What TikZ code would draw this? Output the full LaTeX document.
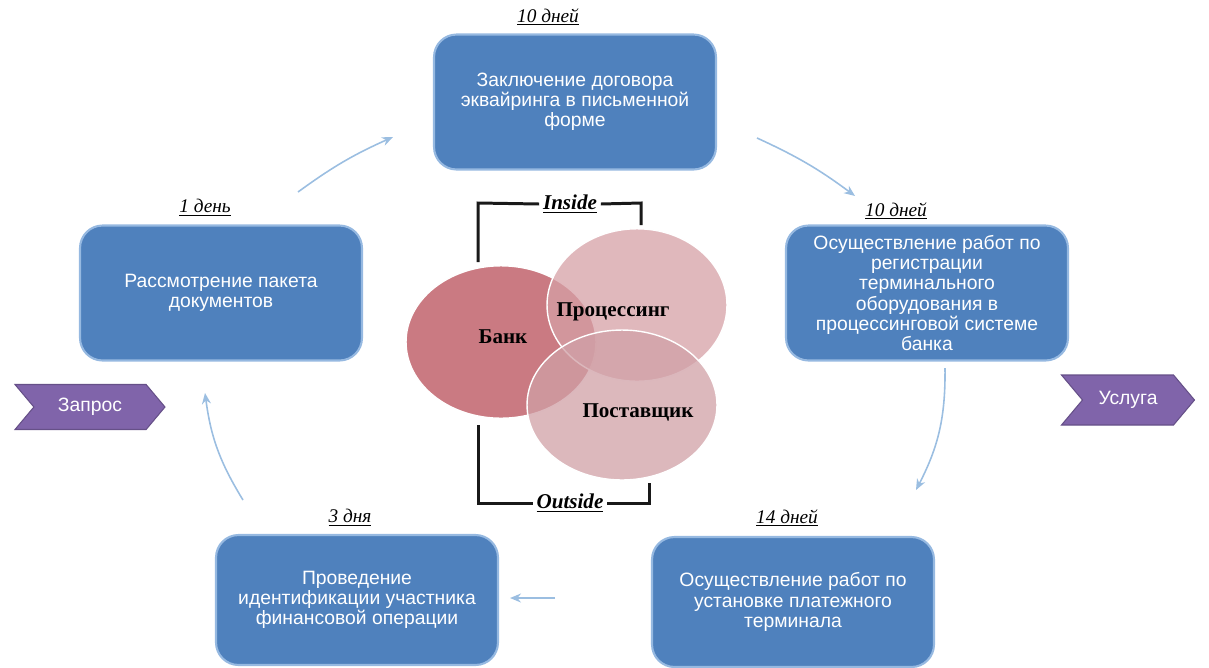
\documentclass[tikz,border=0pt]{standalone}
\usepackage{fontspec}
\setmainfont{Liberation Serif}
\setsansfont{Liberation Sans}
\usetikzlibrary{arrows.meta,shapes.symbols,shapes.geometric}
\definecolor{stepblue}{RGB}{79,129,189}
\definecolor{stepedge}{RGB}{150,185,225}
\definecolor{flowblue}{RGB}{155,190,225}
\definecolor{tagviolet}{RGB}{128,100,170}
\definecolor{bankrose}{RGB}{196,108,116}
\definecolor{procrose}{RGB}{214,160,166}
\definecolor{postrose}{RGB}{208,160,166}

\begin{document}
\begin{tikzpicture}[
    x=0.02cm, y=-0.02cm,
    >={Stealth[length=2.2mm,width=1.8mm]},
    stepbox/.style={rectangle, rounded corners=0.45cm, fill=stepblue, draw=stepedge, line width=1.2pt,
      minimum width=5.64cm, text=white, align=center, font=\sffamily\fontsize{11}{11.5}\selectfont},
    days/.style={font=\itshape\fontsize{11}{12}\selectfont, inner sep=1pt},
    flow/.style={->, draw=flowblue, line width=0.9pt},
    tagarrow/.style={signal, signal from=west, signal to=east, signal pointer angle=100,
      fill=tagviolet, draw=tagviolet!80!black, line width=0.6pt, text=white,
      font=\sffamily\fontsize{11}{12}\selectfont, inner sep=0pt},
    party/.style={ellipse, minimum width=3.8cm, minimum height=3.05cm, draw=white, line width=0.8pt},
    partyname/.style={font=\bfseries\fontsize{12}{13}\selectfont},
    frame/.style={draw=black!90, line width=1.7pt},
    edgetag/.style={font=\bfseries\itshape\fontsize{12}{13}\selectfont, inner sep=2pt},
  ]

  \useasboundingbox (0,0) rectangle (1209,667);

  % the five steps
  \node[stepbox, minimum height=2.7cm] (contract) at (575,102)
    {Заключение договора\\эквайринга в письменной\\форме};
  \node[stepbox, minimum height=2.7cm] (review) at (221,293)
    {Рассмотрение пакета\\документов};
  \node[stepbox, minimum height=2.7cm] (register) at (927,293)
    {Осуществление работ по\\регистрации\\терминального\\оборудования в\\процессинговой системе\\банка};
  \node[stepbox, minimum height=2.6cm] (ident) at (357,600)
    {Проведение\\идентификации участника\\финансовой операции};
  \node[stepbox, minimum height=2.6cm] (install) at (793,602)
    {Осуществление работ по\\установке платежного\\терминала};

  % how long each step takes
  \node[days] (dcontract) at (548,17)  {\underline{10 дней}};
  \node[days] (dreview)   at (205,208) {\underline{1 день}};
  \node[days] (dregister) at (896,211) {\underline{10 дней}};
  \node[days] (dident)    at (350,518) {\underline{3 дня}};
  \node[days] (dinstall)  at (787,518) {\underline{14 дней}};

  % request in, service out
  \node[tagarrow, minimum width=3cm, minimum height=0.9cm] (request) at (90,407) {Запрос};
  \node[tagarrow, minimum width=2.66cm, minimum height=1cm] (service) at (1128,400) {Услуга};

  % the cycle
  \coordinate (f1a) at (298,192); \coordinate (f1b) at (393,137);
  \coordinate (f2a) at (757,138); \coordinate (f2b) at (855,196);
  \coordinate (f3a) at (945,368); \coordinate (f3b) at (916,490);
  \coordinate (f4a) at (555,598); \coordinate (f4b) at (510,598);
  \coordinate (f5a) at (243,500); \coordinate (f5b) at (205,393);
  \draw[flow] (f1a) to[bend left=6] (f1b);
  \draw[flow] (f2a) to[bend left=6] (f2b);
  \draw[flow] (f3a) to[bend left=14] (f3b);
  \draw[flow] (f4a) -- (f4b);
  \draw[flow] (f5a) to[bend left=12] (f5b);

  % inside / outside frame
  \node[edgetag] (inside)  at (570,204) {\underline{Inside}};
  \node[edgetag] (outside) at (570,503) {\underline{Outside}};
  \coordinate (tl) at (478,203); \coordinate (tlend) at (478,262);
  \coordinate (tr) at (641,203); \coordinate (trend) at (641,225);
  \coordinate (bl) at (478,503); \coordinate (blend) at (478,425);
  \coordinate (br) at (649,503); \coordinate (brend) at (649,483);
  \draw[frame] (inside.west) -- (tl) -- (tlend);
  \draw[frame] (inside.east) -- (tr) -- (trend);
  \draw[frame] (outside.west) -- (bl) -- (blend);
  \draw[frame] (outside.east) -- (br) -- (brend);

  % the three parties
  \node[party, fill=bankrose, fill opacity=0.9] (bank) at (501,342) {};
  \node[party, fill=procrose, fill opacity=0.75, minimum width=3.6cm] (proc) at (637,305) {};
  \node[party, fill=postrose, fill opacity=0.75, minimum height=3cm] (post) at (622,405) {};
  \node[partyname] (lbank) at (503,337) {Банк};
  \node[partyname] (lproc) at (613,312) {Процессинг};
  \node[partyname] (lpost) at (638,412) {Поставщик};

\end{tikzpicture}
\end{document}
